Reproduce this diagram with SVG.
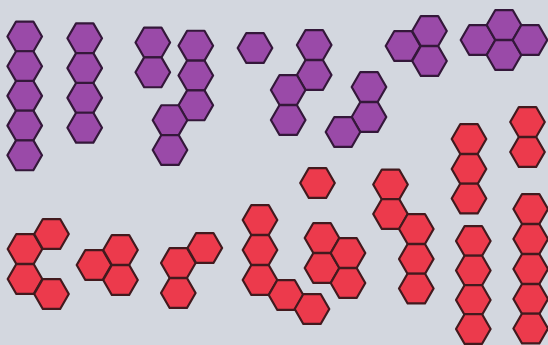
<svg xmlns="http://www.w3.org/2000/svg" xmlns:xlink="http://www.w3.org/1999/xlink" width="548" height="345" viewBox="0 0 548 345">
  <style>
    .p { fill: #9a4aa8; stroke: #34183a; stroke-width: 2.2; stroke-linejoin: round; }
    .r { fill: #ec3a4c; stroke: #421a1e; stroke-width: 2.2; stroke-linejoin: round; }
  </style>
  <defs>
    <polygon id="hex" points="17.3,0 8.65,14.95 -8.65,14.95 -17.3,0 -8.65,-14.95 8.65,-14.95"/>
  </defs>
  <rect width="548" height="345" fill="#d3d7df"/>

  <g id="purple-A" class="p">
    <use xlink:href="#hex" x="24.7" y="36.5"/>
    <use xlink:href="#hex" x="24.7" y="66.2"/>
    <use xlink:href="#hex" x="24.7" y="95.9"/>
    <use xlink:href="#hex" x="24.7" y="125.6"/>
    <use xlink:href="#hex" x="24.7" y="155.3"/>
  </g>
  <g id="purple-B" class="p">
    <use xlink:href="#hex" x="84.7" y="38.3"/>
    <use xlink:href="#hex" x="84.7" y="68.1"/>
    <use xlink:href="#hex" x="84.7" y="97.9"/>
    <use xlink:href="#hex" x="84.7" y="127.7"/>
  </g>
  <g id="purple-C" class="p">
    <use xlink:href="#hex" x="152.8" y="42.5"/>
    <use xlink:href="#hex" x="152.8" y="72.3"/>
  </g>
  <g id="purple-D" class="p">
    <use xlink:href="#hex" x="195.8" y="45.7"/>
    <use xlink:href="#hex" x="195.8" y="75.5"/>
    <use xlink:href="#hex" x="195.8" y="105.3"/>
    <use xlink:href="#hex" x="170" y="120.2"/>
    <use xlink:href="#hex" x="170" y="150"/>
  </g>
  <g id="purple-E" class="p">
    <use xlink:href="#hex" x="255" y="48"/>
  </g>
  <g id="purple-F" class="p">
    <use xlink:href="#hex" x="314.2" y="45"/>
    <use xlink:href="#hex" x="314.2" y="75"/>
    <use xlink:href="#hex" x="288.2" y="90"/>
    <use xlink:href="#hex" x="288.2" y="120"/>
  </g>
  <g id="purple-G" class="p">
    <use xlink:href="#hex" x="369" y="87"/>
    <use xlink:href="#hex" x="369" y="117"/>
    <use xlink:href="#hex" x="343" y="132"/>
  </g>
  <g id="purple-H" class="p">
    <use xlink:href="#hex" x="403" y="46"/>
    <use xlink:href="#hex" x="429.5" y="31"/>
    <use xlink:href="#hex" x="429.5" y="61"/>
  </g>
  <g id="purple-I" class="p">
    <use xlink:href="#hex" x="478" y="40"/>
    <use xlink:href="#hex" x="504" y="25"/>
    <use xlink:href="#hex" x="504" y="55"/>
    <use xlink:href="#hex" x="530" y="40"/>
  </g>

  <g id="red-J" class="r">
    <use xlink:href="#hex" x="25" y="249"/>
    <use xlink:href="#hex" x="25" y="279"/>
    <use xlink:href="#hex" x="51.5" y="234"/>
    <use xlink:href="#hex" x="51.5" y="294"/>
  </g>
  <g id="red-K" class="r">
    <use xlink:href="#hex" x="94" y="265"/>
    <use xlink:href="#hex" x="120.5" y="250"/>
    <use xlink:href="#hex" x="120.5" y="280"/>
  </g>
  <g id="red-L" class="r">
    <use xlink:href="#hex" x="178.3" y="263"/>
    <use xlink:href="#hex" x="178.3" y="293"/>
    <use xlink:href="#hex" x="204.8" y="248"/>
  </g>
  <g id="red-M" class="r">
    <use xlink:href="#hex" x="317.5" y="183"/>
  </g>
  <g id="red-N" class="r">
    <use xlink:href="#hex" x="260" y="220"/>
    <use xlink:href="#hex" x="260" y="250"/>
    <use xlink:href="#hex" x="260" y="280"/>
    <use xlink:href="#hex" x="286" y="295"/>
    <use xlink:href="#hex" x="312" y="309"/>
  </g>
  <g id="red-O" class="r">
    <use xlink:href="#hex" x="322" y="238"/>
    <use xlink:href="#hex" x="322" y="268"/>
    <use xlink:href="#hex" x="348" y="253"/>
    <use xlink:href="#hex" x="348" y="283"/>
  </g>
  <g id="red-P" class="r">
    <use xlink:href="#hex" x="390.5" y="184.5"/>
    <use xlink:href="#hex" x="390.5" y="214"/>
    <use xlink:href="#hex" x="416.3" y="229"/>
    <use xlink:href="#hex" x="416.3" y="259"/>
    <use xlink:href="#hex" x="416.3" y="288.5"/>
  </g>
  <g id="red-Q" class="r">
    <use xlink:href="#hex" x="469" y="139"/>
    <use xlink:href="#hex" x="469" y="169"/>
    <use xlink:href="#hex" x="469" y="198.5"/>
  </g>
  <g id="red-R" class="r">
    <use xlink:href="#hex" x="473.3" y="241"/>
    <use xlink:href="#hex" x="473.3" y="270.5"/>
    <use xlink:href="#hex" x="473.3" y="300"/>
    <use xlink:href="#hex" x="473.3" y="329"/>
  </g>
  <g id="red-S" class="r">
    <use xlink:href="#hex" x="527.5" y="122"/>
    <use xlink:href="#hex" x="527.5" y="152"/>
  </g>
  <g id="red-T" class="r">
    <use xlink:href="#hex" x="530.7" y="209"/>
    <use xlink:href="#hex" x="530.7" y="239"/>
    <use xlink:href="#hex" x="530.7" y="269"/>
    <use xlink:href="#hex" x="530.7" y="299"/>
    <use xlink:href="#hex" x="530.7" y="328.5"/>
  </g>
</svg>
